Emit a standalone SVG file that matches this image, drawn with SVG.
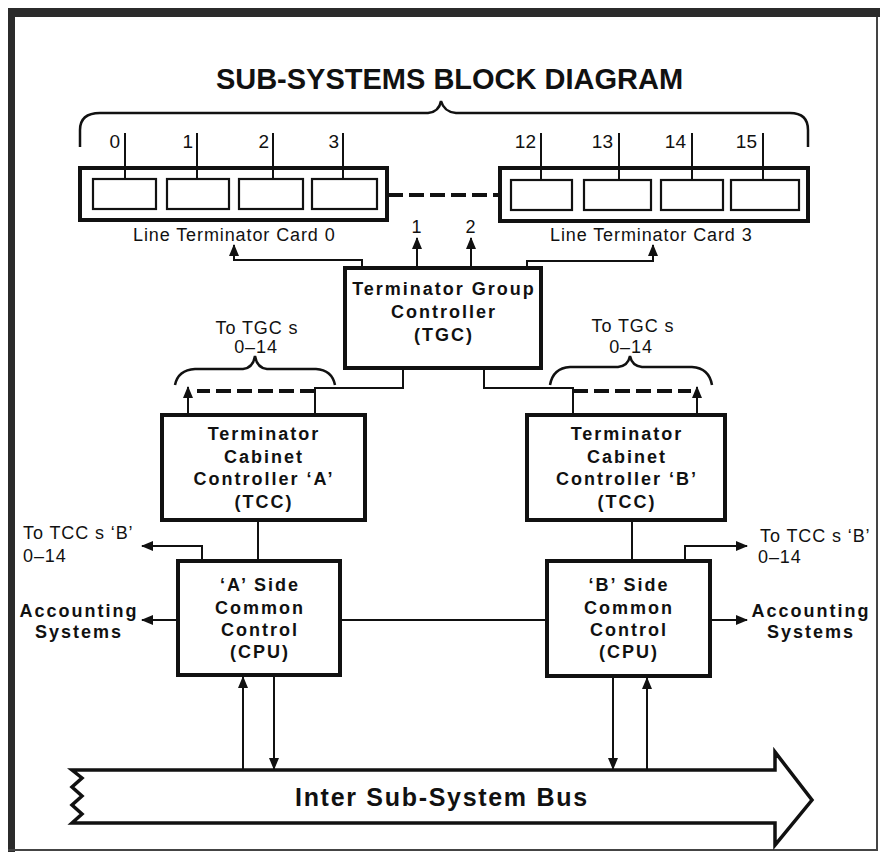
<svg xmlns="http://www.w3.org/2000/svg" width="880" height="855" viewBox="0 0 880 855">
  <style>
    .frame { fill: #2b2b2b; }
    .edge { stroke: #444; stroke-width: 2; fill: none; }
    .box { fill: #fff; stroke: #111; stroke-width: 4; }
    .slot { fill: #fff; stroke: #111; stroke-width: 2.2; }
    .wire { fill: none; stroke: #111; stroke-width: 2; }
    .dash { fill: none; stroke: #111; stroke-width: 4; stroke-dasharray: 15 6; }
    .brace { fill: none; stroke: #111; stroke-width: 2.5; }
    .bus { fill: #fff; stroke: #111; stroke-width: 3.5; stroke-linejoin: miter; }
    text { font-family: "Liberation Sans", Arial, sans-serif; fill: #111; }
    .title { font-size: 29px; font-weight: bold; text-anchor: middle; }
    .bold { font-size: 18px; font-weight: bold; letter-spacing: 2px; text-anchor: middle; }
    .lab { font-size: 18px; letter-spacing: 0.9px; }
    .num { font-size: 19px; text-anchor: end; }
    .busl { font-size: 25px; font-weight: bold; letter-spacing: 1.7px; }
  </style>
  <defs>
    <marker id="arrow" markerUnits="userSpaceOnUse" markerWidth="12" markerHeight="10" refX="11" refY="5" orient="auto">
      <path d="M0,0 L12,5 L0,10 z" fill="#111"/>
    </marker>
  </defs>

  <rect width="880" height="855" fill="#fff"/>

  <!-- page frame -->
  <g id="frame">
    <rect class="frame" x="8" y="8" width="872" height="9"/>
    <rect class="frame" x="8" y="8" width="7" height="844"/>
    <line class="edge" x1="8" y1="850" x2="878" y2="850"/>
    <line class="edge" x1="877" y1="17" x2="877" y2="851"/>
  </g>

  <text class="title" x="449.5" y="89">SUB-SYSTEMS BLOCK DIAGRAM</text>

  <!-- braces grouping the line cards and TGC fan-outs -->
  <g id="braces">
    <path class="brace" d="M80,147 L80,130 Q80,113 100,113 L428,113 Q439,112 441,101 Q444,112 456,113 L790,113 Q808,113 808,130 L808,147"/>
    <path class="brace" d="M175,385 Q178,370 195,369 L243,369 Q253,368 255,356 Q257,368 267,369 L316,369 Q332,370 335,385"/>
    <path class="brace" d="M550,385 Q553,368 570,367 L618,367 Q628,366 630,356 Q632,366 642,367 L692,367 Q709,368 712,385"/>
  </g>

  <g id="ltc0">
    <rect class="box" x="80" y="168" width="307" height="52"/>
    <rect class="slot" x="93" y="179" width="63" height="30"/>
    <rect class="slot" x="167" y="179" width="62" height="30"/>
    <rect class="slot" x="239" y="179" width="64" height="30"/>
    <rect class="slot" x="312" y="179" width="65" height="30"/>
    <text class="lab" x="133" y="241">Line Terminator Card 0</text>
  </g>

  <g id="ltc3">
    <rect class="box" x="500" y="168" width="308" height="53"/>
    <rect class="slot" x="511" y="180" width="61" height="30"/>
    <rect class="slot" x="584" y="180" width="67" height="30"/>
    <rect class="slot" x="661" y="180" width="62" height="30"/>
    <rect class="slot" x="731" y="180" width="68" height="30"/>
    <text class="lab" x="550" y="241">Line Terminator Card 3</text>
  </g>

  <!-- line numbers -->
  <g id="lines">
    <text class="num" x="120" y="148">0</text>
    <text class="num" x="193" y="148">1</text>
    <text class="num" x="269" y="148">2</text>
    <text class="num" x="339" y="148">3</text>
    <text class="num" x="536" y="148">12</text>
    <text class="num" x="613" y="148">13</text>
    <text class="num" x="686" y="148">14</text>
    <text class="num" x="757" y="148">15</text>
  </g>

  <g id="tgc">
    <rect class="box" x="345" y="268" width="196" height="100"/>
    <text class="bold" x="444" y="295">Terminator Group</text>
    <text class="bold" x="444" y="318">Controller</text>
    <text class="bold" x="444" y="341">(TGC)</text>
  </g>

  <g id="tcc-a">
    <rect class="box" x="162" y="415" width="203" height="105"/>
    <text class="bold" x="264" y="440">Terminator</text>
    <text class="bold" x="264" y="463">Cabinet</text>
    <text class="bold" x="264" y="485">Controller ‘A’</text>
    <text class="bold" x="264" y="508">(TCC)</text>
  </g>

  <g id="tcc-b">
    <rect class="box" x="527" y="415" width="198" height="105"/>
    <text class="bold" x="627" y="440">Terminator</text>
    <text class="bold" x="627" y="463">Cabinet</text>
    <text class="bold" x="627" y="485">Controller ‘B’</text>
    <text class="bold" x="627" y="508">(TCC)</text>
  </g>

  <g id="cpu-a">
    <rect class="box" x="178" y="561" width="162" height="114"/>
    <text class="bold" x="260" y="591">‘A’ Side</text>
    <text class="bold" x="260" y="614">Common</text>
    <text class="bold" x="260" y="636">Control</text>
    <text class="bold" x="260" y="658">(CPU)</text>
  </g>

  <g id="cpu-b">
    <rect class="box" x="547" y="561" width="163" height="115"/>
    <text class="bold" x="629" y="591">‘B’ Side</text>
    <text class="bold" x="629" y="614">Common</text>
    <text class="bold" x="629" y="636">Control</text>
    <text class="bold" x="629" y="658">(CPU)</text>
  </g>

  <g id="bus">
    <path class="bus" d="M72,770 L775,770 L775,752 L812,800 L775,845 L775,823 L72,823 L82,814 L72,805 L82,796 L72,787 L82,778 Z"/>
    <text class="busl" x="295" y="806">Inter Sub-System Bus</text>
  </g>

  <!-- side labels -->
  <g id="labels">
    <text class="lab" x="417" y="233" text-anchor="middle">1</text>
    <text class="lab" x="471" y="233" text-anchor="middle">2</text>
    <text class="lab" x="257" y="334" text-anchor="middle" letter-spacing="0.5">To TGC s</text>
    <text class="lab" x="256" y="353" text-anchor="middle" letter-spacing="2">0–14</text>
    <text class="lab" x="633" y="332" text-anchor="middle" letter-spacing="0.5">To TGC s</text>
    <text class="lab" x="631" y="353" text-anchor="middle" letter-spacing="2">0–14</text>
    <text class="lab" x="23" y="539">To TCC s ‘B’</text>
    <text class="lab" x="23" y="562" letter-spacing="2">0–14</text>
    <text class="lab" x="760" y="542">To TCC s ‘B’</text>
    <text class="lab" x="758" y="563" letter-spacing="2">0–14</text>
    <text class="bold" x="79" y="617">Accounting</text>
    <text class="bold" x="79" y="638">Systems</text>
    <text class="bold" x="811" y="617">Accounting</text>
    <text class="bold" x="811" y="638">Systems</text>
  </g>

  <!-- connectors -->
  <g id="connectors">
    <!-- card drops -->
    <line class="wire" x1="125" y1="133" x2="125" y2="179"/>
    <line class="wire" x1="197" y1="133" x2="197" y2="179"/>
    <line class="wire" x1="273" y1="133" x2="273" y2="179"/>
    <line class="wire" x1="343" y1="133" x2="343" y2="179"/>
    <line class="wire" x1="541" y1="133" x2="541" y2="180"/>
    <line class="wire" x1="619" y1="133" x2="619" y2="180"/>
    <line class="wire" x1="692" y1="133" x2="692" y2="180"/>
    <line class="wire" x1="763" y1="133" x2="763" y2="180"/>
    <line class="dash" x1="388" y1="195" x2="500" y2="195"/>

    <!-- TGC outputs -->
    <path class="wire" d="M362,268 L362,260 L234,260 L234,245" marker-end="url(#arrow)"/>
    <path class="wire" d="M417,268 L417,238" marker-end="url(#arrow)"/>
    <path class="wire" d="M471,268 L471,238" marker-end="url(#arrow)"/>
    <path class="wire" d="M527,268 L527,261 L653,261 L653,245" marker-end="url(#arrow)"/>

    <!-- TGC to cabinet controllers -->
    <path class="wire" d="M403,368 L403,388 L315,388 L315,415"/>
    <line class="dash" x1="315" y1="391" x2="197" y2="391"/>
    <path class="wire" d="M188,415 L188,387" marker-end="url(#arrow)"/>
    <path class="wire" d="M484,368 L484,388 L573,388 L573,415"/>
    <line class="dash" x1="573" y1="391" x2="691" y2="391"/>
    <path class="wire" d="M697,415 L697,387" marker-end="url(#arrow)"/>

    <!-- TCC to CPU -->
    <line class="wire" x1="258" y1="520" x2="258" y2="561"/>
    <line class="wire" x1="632" y1="520" x2="632" y2="561"/>

    <!-- CPU side outputs -->
    <path class="wire" d="M202,561 L202,546 L142,546" marker-end="url(#arrow)"/>
    <path class="wire" d="M178,620 L142,620" marker-end="url(#arrow)"/>
    <path class="wire" d="M685,561 L685,546 L747,546" marker-end="url(#arrow)"/>
    <path class="wire" d="M710,620 L747,620" marker-end="url(#arrow)"/>
    <line class="wire" x1="340" y1="620" x2="547" y2="620"/>

    <!-- CPU to bus -->
    <path class="wire" d="M243,769 L243,677" marker-end="url(#arrow)"/>
    <path class="wire" d="M274,677 L274,769" marker-end="url(#arrow)"/>
    <path class="wire" d="M613,678 L613,769" marker-end="url(#arrow)"/>
    <path class="wire" d="M647,769 L647,678" marker-end="url(#arrow)"/>
  </g>
</svg>
